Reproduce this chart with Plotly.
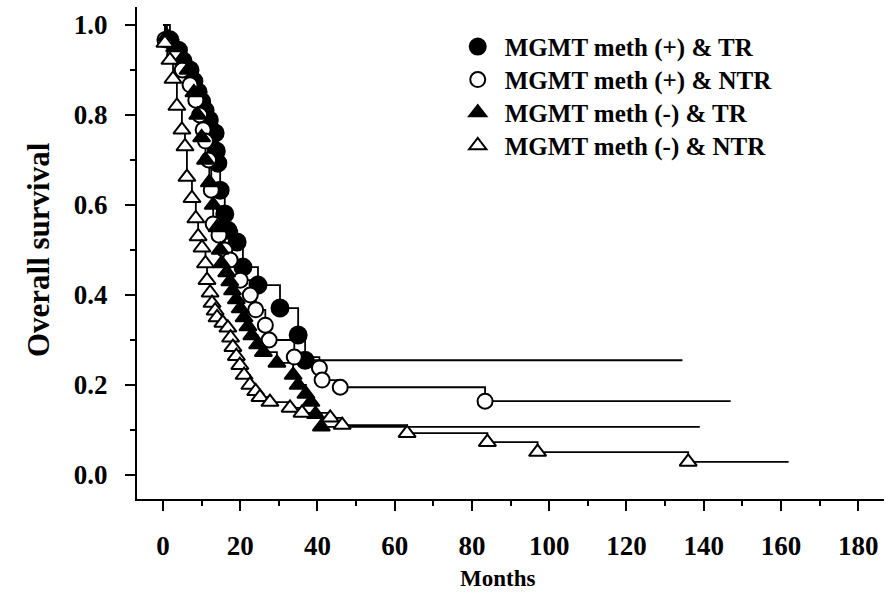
import plotly.graph_objects as go

# Kaplan-Meier step data: event times (months) and survival after each event
pos_tr_t = [1.8, 4.0, 5.2, 7.0, 8.0, 9.1, 10.0, 10.9, 12.0, 13.5, 13.8, 14.2, 14.8,
            16.0, 16.8, 19.2, 20.7, 24.6, 30.3, 35.0, 36.8]
pos_tr_s = [0.967, 0.944, 0.920, 0.900, 0.875, 0.851, 0.830, 0.810, 0.789, 0.760,
            0.720, 0.693, 0.633, 0.580, 0.544, 0.518, 0.462, 0.422, 0.371, 0.311, 0.255]
pos_tr_end = 134.5

pos_ntr_t = [0.5, 3.0, 5.0, 7.0, 8.5, 9.5, 10.4, 11.0, 11.8, 12.5, 13.0, 14.5, 16.0,
             17.4, 20.0, 22.6, 24.0, 26.5, 27.5, 34.0, 40.5, 41.2, 45.9, 83.4]
pos_ntr_s = [0.967, 0.933, 0.900, 0.867, 0.833, 0.800, 0.767, 0.742, 0.700, 0.633,
             0.558, 0.533, 0.500, 0.478, 0.433, 0.400, 0.367, 0.333, 0.300, 0.262,
             0.238, 0.211, 0.195, 0.164]
pos_ntr_end = 147.0

neg_tr_t = [1.0, 3.0, 5.0, 6.5, 8.0, 9.0, 10.0, 11.0, 12.0, 13.0, 14.0, 14.8, 15.2,
            16.5, 17.3, 18.0, 19.0, 20.0, 21.0, 22.0, 23.0, 24.5, 26.0, 29.5, 33.7,
            35.0, 37.0, 38.3, 39.5, 41.0]
neg_tr_s = [0.975, 0.950, 0.925, 0.900, 0.850, 0.800, 0.750, 0.700, 0.650, 0.600,
            0.550, 0.500, 0.470, 0.450, 0.430, 0.410, 0.390, 0.370, 0.350, 0.330,
            0.310, 0.290, 0.273, 0.249, 0.222, 0.200, 0.180, 0.162, 0.135, 0.107]
neg_tr_end = 139.0

neg_ntr_t = [0.5, 1.8, 2.6, 3.6, 4.9, 5.7, 6.2, 7.5, 8.5, 9.1, 10.1, 11.0, 11.4, 12.2,
             12.7, 13.5, 14.0, 15.5, 16.8, 17.5, 18.1, 19.0, 19.9, 21.0, 22.5, 24.0,
             25.1, 27.7, 32.9, 36.0, 43.3, 46.4, 63.2, 84.0, 97.0, 136.0]
neg_ntr_s = [0.960, 0.922, 0.880, 0.820, 0.767, 0.730, 0.662, 0.615, 0.570, 0.530,
             0.505, 0.470, 0.433, 0.405, 0.382, 0.365, 0.350, 0.338, 0.327, 0.305,
             0.284, 0.264, 0.244, 0.222, 0.200, 0.186, 0.173, 0.162, 0.149, 0.138,
             0.127, 0.111, 0.093, 0.073, 0.051, 0.029]
neg_ntr_end = 162.0

groups = [
    ("MGMT meth (+) & TR", pos_tr_t, pos_tr_s, pos_tr_end, "circle", "black", 17),
    ("MGMT meth (+) & NTR", pos_ntr_t, pos_ntr_s, pos_ntr_end, "circle", "white", 15),
    ("MGMT meth (-) & TR", neg_tr_t, neg_tr_s, neg_tr_end, "triangle-up", "black", 15),
    ("MGMT meth (-) & NTR", neg_ntr_t, neg_ntr_s, neg_ntr_end, "triangle-up", "white", 15),
]

FONT = "Liberation Serif"
# one legend box per group so the rows can sit closer than plotly's default pitch
legend_ids = ["legend", "legend2", "legend3", "legend4"]
legend_rows = [0.919, 0.852, 0.785, 0.718]

fig = go.Figure()

# step curves
for name, t, s, end, sym, fill, size in groups:
    fig.add_trace(go.Scatter(
        x=[0] + t + [end], y=[1.0] + s + [s[-1]],
        mode="lines", line=dict(color="black", width=1.8, shape="hv"),
        showlegend=False, hoverinfo="skip",
    ))

# event markers (drawn last so symbols sit on top of the steps)
for lid, (name, t, s, end, sym, fill, size) in zip(legend_ids, groups):
    fig.add_trace(go.Scatter(
        x=t, y=s, mode="markers", name=name, legend=lid,
        marker=dict(symbol=sym, size=size, color=fill,
                    line=dict(color="black", width=2)),
    ))

legend_style = dict(
    x=0.42, xanchor="left", yanchor="middle",
    font=dict(family=FONT, size=25, color="black", weight="bold"),
    bgcolor="rgba(0,0,0,0)", itemsizing="trace", itemwidth=44,
)
for lid, row in zip(legend_ids, legend_rows):
    fig.update_layout({lid: dict(legend_style, y=row)})

fig.update_layout(
    width=892, height=605,
    margin=dict(l=137, r=8, t=7, b=106),
    paper_bgcolor="white", plot_bgcolor="white",
    font=dict(family=FONT, color="black"),
    xaxis=dict(
        range=[-6.73, 186.7], tickvals=list(range(0, 181, 20)),
        showline=True, linecolor="black", linewidth=2,
        ticks="outside", ticklen=10, tickwidth=2, tickcolor="black",
        minor=dict(tickvals=list(range(10, 181, 20)), ticks="outside",
                   ticklen=5, tickwidth=2, tickcolor="black"),
        showgrid=False, zeroline=False, ticklabelstandoff=12,
        tickfont=dict(family=FONT, size=27, weight="bold"),
    ),
    yaxis=dict(
        range=[-0.0533, 1.04], tickvals=[0, 0.2, 0.4, 0.6, 0.8, 1.0],
        ticktext=["0.0", "0.2", "0.4", "0.6", "0.8", "1.0"],
        showline=True, linecolor="black", linewidth=2,
        ticks="outside", ticklen=10, tickwidth=2, tickcolor="black",
        minor=dict(tickvals=[0.1, 0.3, 0.5, 0.7, 0.9], ticks="outside",
                   ticklen=5, tickwidth=2, tickcolor="black"),
        showgrid=False, zeroline=False, ticklabelstandoff=12,
        tickfont=dict(family=FONT, size=27, weight="bold"),
    ),
    annotations=[
        dict(text="Months", xref="paper", yref="paper", x=0.482, y=-0.1606,
             xanchor="center", yanchor="middle", showarrow=False,
             font=dict(family=FONT, size=23, weight="bold")),
        dict(text="Overall survival", xref="paper", yref="paper", x=-0.1325, y=0.506,
             xanchor="center", yanchor="middle", showarrow=False, textangle=-90,
             font=dict(family=FONT, size=31, weight="bold")),
    ],
)

fig.write_html("out.html")
